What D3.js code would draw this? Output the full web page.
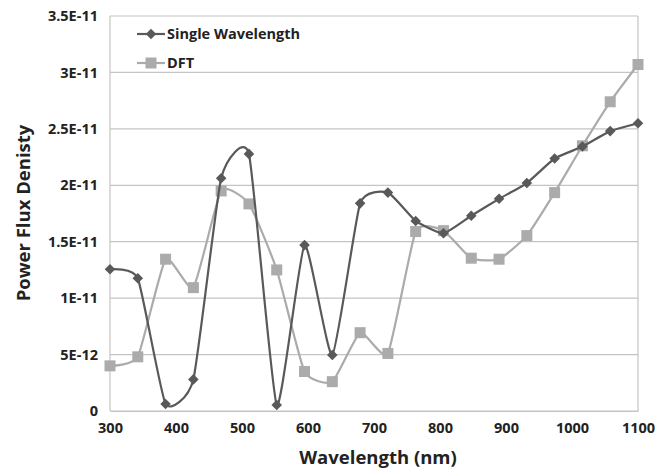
<!DOCTYPE html>
<html>
<head>
<meta charset="utf-8">
<script src="https://cdn.jsdelivr.net/npm/d3@7"></script>
<style>
  body { margin: 0; background: #fff; }
  svg text { font-family: "Open Sans", "Noto Sans", sans-serif; font-weight: 700; fill: #222; }
</style>
</head>
<body>
<svg id="chart" width="669" height="469"></svg>
<script>
(function () {
  'use strict';

  // wavelengths (nm), 20 evenly spaced samples
  const wavelengths = d3.range(20).map(i => 300 + i * 800 / 19);

  const singleWavelength = [
    1.256e-11, 1.176e-11, 0.062e-11, 0.28e-11, 2.063e-11, 2.278e-11, 0.053e-11,
    1.47e-11, 0.496e-11, 1.84e-11, 1.935e-11, 1.684e-11, 1.575e-11, 1.73e-11,
    1.88e-11, 2.02e-11, 2.237e-11, 2.343e-11, 2.48e-11, 2.55e-11
  ];

  const dft = [
    0.40e-11, 0.48e-11, 1.345e-11, 1.093e-11, 1.95e-11, 1.835e-11, 1.25e-11,
    0.35e-11, 0.26e-11, 0.694e-11, 0.51e-11, 1.59e-11, 1.598e-11, 1.354e-11,
    1.345e-11, 1.554e-11, 1.935e-11, 2.35e-11, 2.74e-11, 3.07e-11
  ];

  const yTicks = [0, 5e-12, 1e-11, 1.5e-11, 2e-11, 2.5e-11, 3e-11, 3.5e-11];
  const yTickLabels = ['0', '5E-12', '1E-11', '1.5E-11', '2E-11', '2.5E-11', '3E-11', '3.5E-11'];
  const xTicks = [300, 400, 500, 600, 700, 800, 900, 1000, 1100];

  const COLORS = {
    single: '#595959',
    dft: '#ababab',
    grid: '#c4c4c4'
  };

  const svg = d3.select('#chart');

  const x = d3.scaleLinear().domain([300, 1100]).range([110, 638]);
  const y = d3.scaleLinear().domain([0, 3.5e-11]).range([411, 16]);

  // gridlines
  svg.append('g')
    .selectAll('line')
    .data(yTicks)
    .enter().append('line')
    .attr('x1', x(300)).attr('x2', x(1100))
    .attr('y1', d => y(d)).attr('y2', d => y(d))
    .attr('stroke', COLORS.grid).attr('stroke-width', 1.2);

  // plot border (left + right)
  [300, 1100].forEach(v => {
    svg.append('line')
      .attr('x1', x(v)).attr('x2', x(v))
      .attr('y1', y(0)).attr('y2', y(3.5e-11))
      .attr('stroke', COLORS.grid).attr('stroke-width', 1.2);
  });

  // y axis labels
  const yAxis = d3.axisLeft(y).tickValues(yTicks)
    .tickFormat((d, i) => yTickLabels[i]).tickSize(0).tickPadding(12);
  const gy = svg.append('g').attr('transform', `translate(${x(300)},0)`).call(yAxis);
  gy.select('.domain').remove();
  gy.selectAll('text').attr('font-size', 14.5).attr('font-family', null);

  // x axis labels
  const xAxis = d3.axisBottom(x).tickValues(xTicks).tickFormat(d3.format('d'))
    .tickSize(0).tickPadding(12);
  const gx = svg.append('g').attr('transform', `translate(0,${y(0)})`).call(xAxis);
  gx.select('.domain').attr('stroke', COLORS.grid).attr('stroke-width', 1.2);
  gx.selectAll('text').attr('font-size', 14.5).attr('font-family', null);

  // axis titles
  svg.append('text')
    .attr('x', 378).attr('y', 464)
    .attr('text-anchor', 'middle')
    .attr('font-size', 18.5)
    .text('Wavelength (nm)');

  svg.append('text')
    .attr('transform', 'translate(30,213) rotate(-90)')
    .attr('text-anchor', 'middle')
    .attr('font-size', 18.5)
    .text('Power Flux Denisty');

  // Excel-like smoothing: cardinal spline with damped tangents
  const line = d3.line()
    .x((d, i) => x(wavelengths[i]))
    .y(d => y(d))
    .curve(d3.curveCardinal.tension(0.5));

  // DFT series
  svg.append('path')
    .attr('d', line(dft))
    .attr('fill', 'none')
    .attr('stroke', COLORS.dft)
    .attr('stroke-width', 2.2);

  svg.append('g')
    .selectAll('rect')
    .data(dft)
    .enter().append('rect')
    .attr('x', (d, i) => x(wavelengths[i]) - 5.5)
    .attr('y', d => y(d) - 5.5)
    .attr('width', 11).attr('height', 11)
    .attr('fill', COLORS.dft);

  // single wavelength series
  svg.append('path')
    .attr('d', line(singleWavelength))
    .attr('fill', 'none')
    .attr('stroke', COLORS.single)
    .attr('stroke-width', 2.2);

  const diamond = d3.symbol().type(d3.symbolSquare).size(56);
  svg.append('g')
    .selectAll('path')
    .data(singleWavelength)
    .enter().append('path')
    .attr('d', diamond)
    .attr('transform', (d, i) => `translate(${x(wavelengths[i])},${y(d)}) rotate(45)`)
    .attr('fill', COLORS.single);

  // legend
  const legend = svg.append('g');
  const items = [
    { label: 'Single Wavelength', color: COLORS.single, marker: 'diamond', y: 34 },
    { label: 'DFT', color: COLORS.dft, marker: 'square', y: 63 }
  ];
  items.forEach(it => {
    legend.append('line')
      .attr('x1', 137).attr('x2', 165)
      .attr('y1', it.y).attr('y2', it.y)
      .attr('stroke', it.color).attr('stroke-width', 2.2);
    if (it.marker === 'diamond') {
      legend.append('path')
        .attr('d', diamond)
        .attr('transform', `translate(151,${it.y}) rotate(45)`)
        .attr('fill', it.color);
    } else {
      legend.append('rect')
        .attr('x', 145.5).attr('y', it.y - 5.5)
        .attr('width', 11).attr('height', 11)
        .attr('fill', it.color);
    }
    legend.append('text')
      .attr('x', 167).attr('y', it.y)
      .attr('dy', '0.35em')
      .attr('font-size', 14.5)
      .text(it.label);
  });
})();
</script>
</body>
</html>
